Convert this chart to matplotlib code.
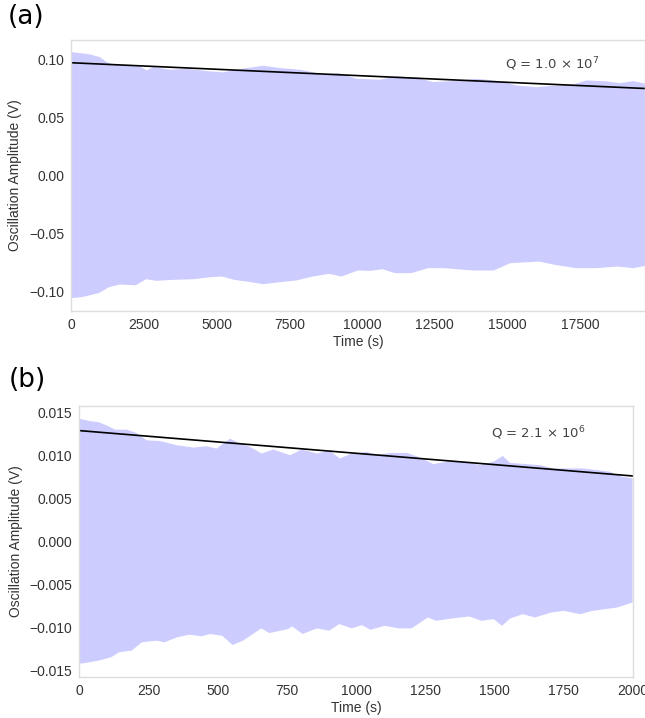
import matplotlib
matplotlib.use("Agg")
import matplotlib.pyplot as plt

# ---- panel (a) data ----
a_up_t = [0, 302, 646, 990, 1221, 1440, 1908, 2366, 2596, 2825, 3397, 3970, 4660,
          5230, 5575, 6034, 6606, 7180, 7868, 8442, 8560, 9185, 9816, 10618, 11192,
          11880, 12452, 13140, 13944, 14746, 15320, 16007, 16580, 17268, 17726,
          18414, 18873, 19330, 19750]
a_up_v = [0.1066, 0.1057, 0.1046, 0.1022, 0.0979, 0.0957, 0.0951, 0.0942, 0.0908,
          0.0936, 0.0914, 0.0922, 0.0902, 0.0891, 0.0908, 0.0928, 0.0948, 0.0928,
          0.0914, 0.0885, 0.0871, 0.0885, 0.0836, 0.0828, 0.0856, 0.0845, 0.0807,
          0.0816, 0.0836, 0.0816, 0.0778, 0.0764, 0.0776, 0.0787, 0.0822, 0.0813,
          0.0798, 0.0816, 0.0793]
a_lo_t = [0, 382, 948, 1302, 1655, 2221, 2575, 2929, 3494, 4202, 4768, 5192, 5617,
          6041, 6607, 7173, 7739, 8305, 8871, 9295, 9861, 10286, 10710, 11135, 11700,
          12266, 12832, 13257, 13823, 14530, 15096, 15521, 16087, 16653, 17360,
          18068, 18775, 19341, 19750]
a_lo_v = [-0.1054, -0.1045, -0.1011, -0.0960, -0.0937, -0.0943, -0.0891, -0.0905,
          -0.0897, -0.0891, -0.0874, -0.0868, -0.0897, -0.0911, -0.0934, -0.0917,
          -0.0902, -0.0868, -0.0845, -0.0868, -0.0816, -0.0819, -0.0805, -0.0839,
          -0.0839, -0.0796, -0.0796, -0.0805, -0.0816, -0.0816, -0.0753, -0.0747,
          -0.0739, -0.0768, -0.0796, -0.0796, -0.0782, -0.0796, -0.0776]
a_fit_t = [0, 19750]
a_fit_v = [0.0974, 0.0752]
a_q = r"Q = 1.0 $\times$ 10$^{7}$"

# ---- panel (b) data ----
b_up_t = [0, 38, 68, 99, 129, 171, 207, 243, 291, 352, 412, 460, 496, 545, 581, 617,
          659, 701, 762, 804, 858, 906, 942, 979, 1039, 1075, 1123, 1184, 1232, 1280,
          1328, 1388, 1449, 1497, 1531, 1557, 1617, 1666, 1714, 1774, 1822, 1871,
          1919, 1961, 2000]
b_up_v = [0.01432, 0.01404, 0.01393, 0.01354, 0.01305, 0.01305, 0.01266, 0.01181,
          0.01173, 0.01124, 0.01097, 0.01112, 0.01085, 0.01201, 0.01143, 0.01104,
          0.01028, 0.01074, 0.01008, 0.01074, 0.01028, 0.01058, 0.00970, 0.01020,
          0.01046, 0.01008, 0.01035, 0.01035, 0.00981, 0.00904, 0.00931, 0.00931,
          0.00893, 0.00931, 0.01000, 0.00919, 0.00904, 0.00893, 0.00854, 0.00854,
          0.00854, 0.00835, 0.00815, 0.00758, 0.00739]
b_lo_t = [0, 25, 70, 115, 144, 189, 226, 278, 308, 353, 397, 442, 472, 516, 554, 591,
          658, 687, 754, 769, 807, 859, 903, 940, 985, 1022, 1052, 1104, 1156, 1201,
          1260, 1290, 1350, 1409, 1454, 1498, 1528, 1558, 1603, 1647, 1707, 1751,
          1811, 1856, 1900, 1945, 2000]
b_lo_v = [-0.01417, -0.01405, -0.01379, -0.01340, -0.01282, -0.01263, -0.01166,
          -0.01148, -0.01166, -0.01109, -0.01078, -0.01097, -0.01070, -0.01090,
          -0.01198, -0.01148, -0.01005, -0.01059, -0.01013, -0.00982, -0.01070,
          -0.01005, -0.01032, -0.00955, -0.01005, -0.00967, -0.01021, -0.00975,
          -0.01005, -0.01005, -0.00878, -0.00917, -0.00889, -0.00866, -0.00917,
          -0.00897, -0.00975, -0.00889, -0.00840, -0.00878, -0.00820, -0.00801,
          -0.00840, -0.00801, -0.00782, -0.00762, -0.00704]
b_fit_t = [0, 2000]
b_fit_v = [0.01294, 0.00767]
b_q = r"Q = 2.1 $\times$ 10$^{6}$"

a_xticks = [0, 2500, 5000, 7500, 10000, 12500, 15000, 17500]
a_yticks = [-0.10, -0.05, 0.00, 0.05, 0.10]
b_xticks = [0, 250, 500, 750, 1000, 1250, 1500, 1750, 2000]
b_yticks = [-0.015, -0.010, -0.005, 0.000, 0.005, 0.010, 0.015]

fill_col = "#ccccff"
txt_col = "#333333"
spine_col = "#dddddd"

plt.rcParams["font.family"] = ["Liberation Sans", "DejaVu Sans"]

fig = plt.figure(figsize=(6.45, 7.18), dpi=100)
W, H = 645, 718


def make_axes(l, r, t, b):
    return fig.add_axes([l / W, 1 - b / H, (r - l) / W, (b - t) / H])


def envelope(ax, up_t, up_v, lo_t, lo_v):
    # one closed polygon: upper edge left->right, lower edge right->left
    xs = list(up_t) + list(lo_t)[::-1]
    ys = list(up_v) + list(lo_v)[::-1]
    ax.fill(xs, ys, color=fill_col, lw=0)


def style(ax, xticks, yticks, xlim, ylim, yfmt):
    ax.set_xlim(*xlim)
    ax.set_ylim(*ylim)
    ax.set_xticks(xticks)
    ax.set_yticks(yticks)
    ax.set_yticklabels([yfmt.format(v).replace("-", "\u2212") for v in yticks])
    ax.tick_params(length=0, labelsize=10, labelcolor=txt_col, pad=5)
    for s in ax.spines.values():
        s.set_color(spine_col)
        s.set_linewidth(1.0)
    ax.set_xlabel("Time (s)", fontsize=10, color=txt_col, labelpad=2)
    ax.set_ylabel("Oscillation Amplitude (V)", fontsize=10, color=txt_col, labelpad=5)


# panel (a)
ax1 = make_axes(71.2, 645.5, 40, 311)
envelope(ax1, a_up_t, a_up_v, a_lo_t, a_lo_v)
ax1.plot(a_fit_t, a_fit_v, color="black", lw=1.2)
ax1.text(0.838, 0.911, a_q, transform=ax1.transAxes, ha="center", va="center",
         fontsize=9.5, color="#444444", family="DejaVu Sans")
style(ax1, a_xticks, a_yticks, (0, 19750), (-0.1165, 0.117), "{:.2f}")

# panel (b)
ax2 = make_axes(79.4, 632.5, 406, 677)
envelope(ax2, b_up_t, b_up_v, b_lo_t, b_lo_v)
ax2.plot(b_fit_t, b_fit_v, color="black", lw=1.2)
ax2.text(0.829, 0.900, b_q, transform=ax2.transAxes, ha="center", va="center",
         fontsize=9.5, color="#444444", family="DejaVu Sans")
style(ax2, b_xticks, b_yticks, (0, 2000), (-0.0157, 0.0158), "{:.3f}")

fig.text(26 / W, 1 - 17 / H, "(a)", fontsize=19, family="DejaVu Sans",
         ha="center", va="center", color="black")
fig.text(27 / W, 1 - 380 / H, "(b)", fontsize=19, family="DejaVu Sans",
         ha="center", va="center", color="black")

fig.savefig("out.png", dpi=100)
